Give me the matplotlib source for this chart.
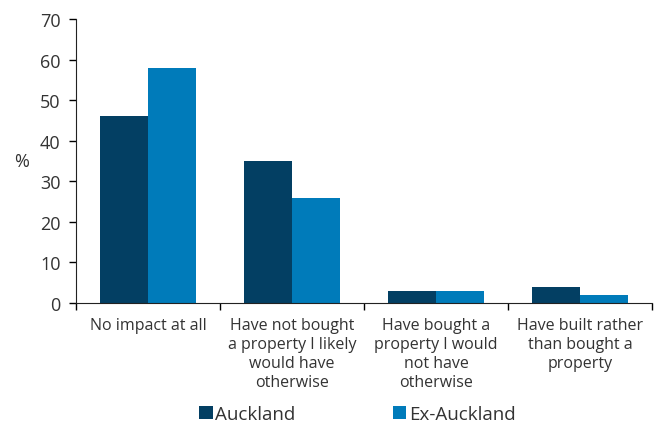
import numpy as np
import matplotlib
matplotlib.use("Agg")
import matplotlib.pyplot as plt

plt.rcParams['font.family'] = ['Open Sans', 'DejaVu Sans']

categories = [
    "No impact at all",
    "Have not bought\na property I likely\nwould have\notherwise",
    "Have bought a\nproperty I would\nnot have\notherwise",
    "Have built rather\nthan bought a\nproperty",
]
auckland = [46, 35, 3, 4]
ex_auckland = [58, 26, 3, 2]

dark_blue = "#033f63"
light_blue = "#007bba"
text_col = "#333333"

fig = plt.figure(figsize=(6.56, 4.27), dpi=100)
ax = fig.add_axes([76 / 656, 1 - 304 / 427, (652 - 76) / 656, (304 - 20) / 427])

x = np.arange(len(categories))
w = 1 / 3
ax.bar(x - w / 2, auckland, w, color=dark_blue, label="Auckland")
ax.bar(x + w / 2, ex_auckland, w, color=light_blue, label="Ex-Auckland")

ax.set_xlim(-0.5, len(categories) - 0.5)
ax.set_ylim(0, 70)
ax.set_yticks(range(0, 71, 10))
ax.tick_params(axis='y', length=5, width=1, labelsize=13, labelcolor=text_col, pad=6)

ax.set_xticks(x)
ax.set_xticklabels(categories, fontsize=11.5, color=text_col, linespacing=1.25)
ax.tick_params(axis='x', which='major', length=0, pad=10)
ax.set_xticks(np.arange(-0.5, len(categories)), minor=True)
ax.tick_params(axis='x', which='minor', length=5, width=1)

for side in ['top', 'right']:
    ax.spines[side].set_visible(False)
for side in ['left', 'bottom']:
    ax.spines[side].set_color("#222222")

ax.set_ylabel("%", rotation=0, fontsize=13, color=text_col, va='center')
ax.yaxis.set_label_coords(-0.095, 0.5)

fig.legend(loc='lower center', bbox_to_anchor=(0.545, -0.032), ncol=2, frameon=False,
           prop={'size': 13.5}, handlelength=0.7, handleheight=0.7,
           handletextpad=0.15, columnspacing=5.2, labelcolor=text_col)

fig.savefig("out.png", dpi=100)
